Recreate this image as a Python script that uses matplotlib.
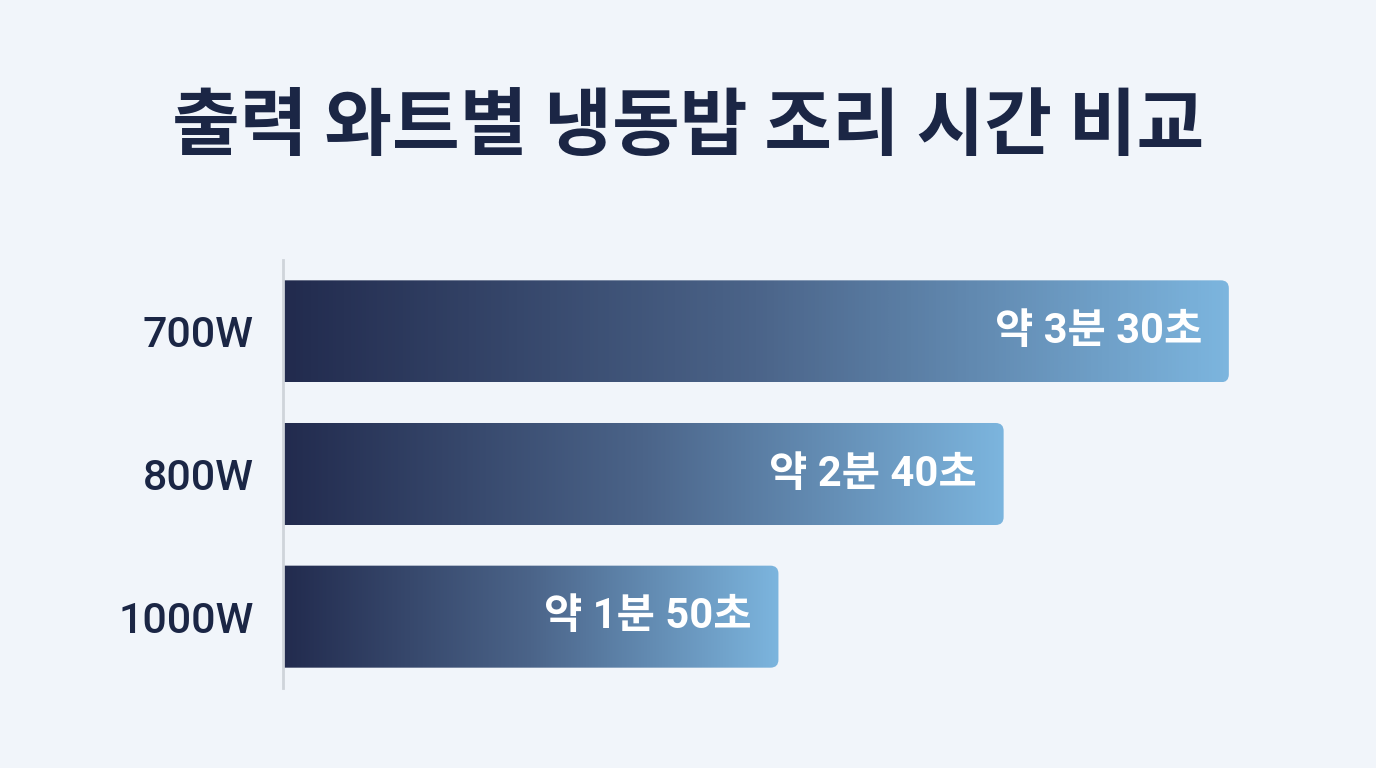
import matplotlib.pyplot as plt
import numpy as np
from matplotlib.colors import LinearSegmentedColormap
from matplotlib.patches import FancyBboxPatch

plt.rcParams['font.family'] = ['Roboto', 'Noto Sans CJK KR', 'DejaVu Sans']

# data
title = '출력 와트별 냉동밥 조리 시간 비교'
watts = ['700W', '800W', '1000W']
seconds = [210, 160, 110]
labels = ['약 3분 30초', '약 2분 40초', '약 1분 50초']

bg = '#f1f5fa'
navy = '#1b2645'
cmap = LinearSegmentedColormap.from_list('bar', ['#222b4e', '#4b6489', '#7cb5de'])

fig = plt.figure(figsize=(13.76, 7.68), dpi=100, facecolor=bg)
ax = fig.add_axes([283 / 1376, 80 / 768, 1017 / 1376, 428 / 768])
ax.set_facecolor(bg)

xmax = 225.8
bar_h = 0.715
px_x = 1017 / xmax          # pixels per data unit on x
px_y = 428 / 3.0            # pixels per data unit on y
r = 8                        # corner radius in pixels
grad = np.linspace(0, 1, 256).reshape(1, -1)

for i, (v, lab) in enumerate(zip(seconds, labels)):
    y0 = i - bar_h / 2
    patch = FancyBboxPatch((-20, y0), v + 20, bar_h,
                           boxstyle=f'round,pad=0,rounding_size={r / px_x}',
                           mutation_aspect=(r / px_y) / (r / px_x),
                           facecolor='none', edgecolor='none')
    ax.add_patch(patch)
    im = ax.imshow(grad, cmap=cmap, aspect='auto', extent=(0, v, y0 + bar_h, y0),
                   interpolation='bilinear', zorder=2)
    im.set_clip_path(patch)
    ax.annotate(lab, xy=(v, i), xytext=(-19, 0), textcoords='offset points',
                ha='right', va='center', color='white', fontsize=30,
                fontweight='bold', zorder=3)

ax.set_xlim(0, xmax)
ax.set_ylim(2.5, -0.5)
ax.set_xticks([])
ax.set_yticks(range(len(watts)))
ax.set_yticklabels(watts, fontsize=31, fontweight='medium', color=navy)
ax.tick_params(axis='y', length=0, pad=21)
for s in ['top', 'right', 'bottom']:
    ax.spines[s].set_visible(False)
ax.spines['left'].set_color('#cfd4da')
ax.spines['left'].set_linewidth(2)

fig.text(0.5, 1 - 128 / 768, title, ha='center', va='center',
         fontsize=53, fontweight='bold', color=navy,
         family=['Noto Sans CJK KR', 'DejaVu Sans'])

fig.savefig('out.png', dpi=100, facecolor=bg)
